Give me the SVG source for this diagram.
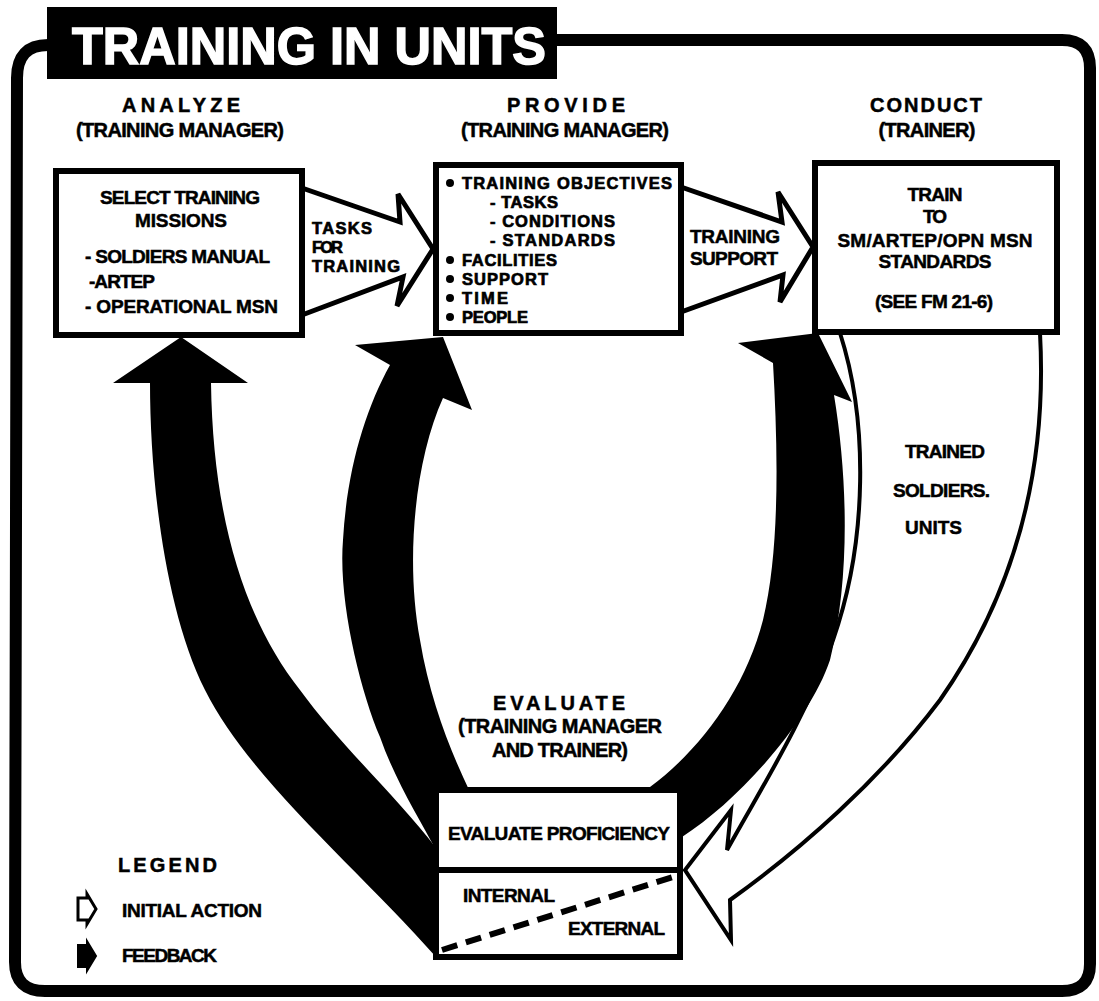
<svg xmlns="http://www.w3.org/2000/svg" width="1099" height="1001" viewBox="0 0 1099 1001">
<style>
.t{font-family:"Liberation Sans",Arial,sans-serif;font-weight:bold;fill:#000;stroke:#000;stroke-width:0.5}
.h{font-size:20px}
.b{font-size:19px}
.s{font-size:16.5px;stroke-width:0.7}
.box{fill:#fff;stroke:#000;stroke-width:6}
.hollow{fill:#fff;stroke:#000;stroke-width:5;stroke-linejoin:miter}
.fb{fill:#000}
</style>
<rect x="0" y="0" width="1099" height="1001" fill="#fff"/>
<g id="frame">
<path d="M 48,45 Q 17,45 17,78 L 15,962 Q 15,991 45,991 L 1062,991 Q 1090,991 1090,964 L 1090,68 Q 1090,40 1062,40 L 556,40" fill="none" stroke="#000" stroke-width="12"/>
</g>
<g id="title">
<rect x="47" y="7" width="510" height="72" fill="#000"/>
<text x="72" y="64" font-family="Liberation Sans, Arial, sans-serif" font-weight="bold" font-size="52" fill="#fff" stroke="#fff" stroke-width="1.5" textLength="474" lengthAdjust="spacingAndGlyphs">TRAINING IN UNITS</text>
</g>
<g id="connectors">
<path id="fb-analyze" class="fb" d="M 150,383 L 113,383 L 181,337 L 248,383 L 211,383 C 213,520 245,620 300,690 C 340,745 400,800 436,848 L 436,957 C 360,870 250,780 205,690 C 165,610 150,480 150,383 Z"/>
<path id="fb-provide" class="fb" d="M 443,337 L 472,410 L 443,398 C 415,460 405,560 420,640 C 430,700 450,750 470,792 L 436,792 L 436,850 C 420,820 395,780 380,737 C 360,690 338,600 343,540 C 347,470 365,410 390,365 L 355,345 Z"/>
<path id="fb-conduct" class="fb" d="M 738,343 L 818,333 L 852,402 L 834,395 C 848,480 850,580 830,660 C 810,720 740,800 682,837 L 682,787 L 650,787 C 700,750 745,690 763,620 C 780,550 778,450 773,363 Z"/>
<polygon id="tasks-arrow" class="hollow" points="302,188 400,222 398,194 433,249 397,306 403,277 302,315"/>
<polygon id="support-arrow" class="hollow" points="681,187 782,222 778,192 813,247 780,302 783,275 681,312"/>
<path id="trained-arrow" d="M 840,333 C 868,420 868,540 833,640 C 805,720 760,790 727,850 L 731,810 L 685,870 L 731,940 L 730,900 C 800,850 880,780 940,700 C 1010,600 1048,480 1040,333" fill="none" stroke="#000" stroke-width="4" stroke-linejoin="miter"/>
</g>
<g id="labels">
<text class="t s" x="312" y="234" textLength="60">TASKS</text>
<text class="t s" x="312" y="253" textLength="31">FOR</text>
<text class="t s" x="312" y="272" textLength="88">TRAINING</text>
<text class="t b" x="690" y="243" textLength="90">TRAINING</text>
<text class="t b" x="690" y="265" textLength="88">SUPPORT</text>
<text class="t b" x="905" y="458" textLength="80">TRAINED</text>
<text class="t b" x="893" y="497" textLength="97">SOLDIERS.</text>
<text class="t b" x="905" y="534" textLength="57">UNITS</text>
</g>
<g id="headers">
<text class="t h" x="181" y="112" text-anchor="middle" textLength="118" lengthAdjust="spacing">ANALYZE</text>
<text class="t h" x="180" y="137" text-anchor="middle" textLength="208" lengthAdjust="spacing">(TRAINING MANAGER)</text>
<text class="t h" x="566" y="112" text-anchor="middle" textLength="118" lengthAdjust="spacing">PROVIDE</text>
<text class="t h" x="565" y="137" text-anchor="middle" textLength="208" lengthAdjust="spacing">(TRAINING MANAGER)</text>
<text class="t h" x="926" y="112" text-anchor="middle" textLength="112" lengthAdjust="spacing">CONDUCT</text>
<text class="t h" x="927" y="137" text-anchor="middle" textLength="97" lengthAdjust="spacing">(TRAINER)</text>
<text class="t h" x="559" y="710" text-anchor="middle" textLength="132" lengthAdjust="spacing">EVALUATE</text>
<text class="t h" x="560" y="733" text-anchor="middle" textLength="204" lengthAdjust="spacing">(TRAINING MANAGER</text>
<text class="t h" x="560" y="757" text-anchor="middle" textLength="136" lengthAdjust="spacing">AND TRAINER)</text>
</g>
<g id="analyze">
<rect class="box" x="56" y="171" width="246" height="164"/>
<text class="t b" x="180" y="204" text-anchor="middle" textLength="160">SELECT TRAINING</text>
<text class="t b" x="181" y="227" text-anchor="middle" textLength="92">MISSIONS</text>
<text class="t b" x="85" y="263" textLength="185">- SOLDIERS MANUAL</text>
<text class="t b" x="89" y="288" textLength="66">-ARTEP</text>
<text class="t b" x="85" y="313" textLength="193">- OPERATIONAL MSN</text>
</g>
<g id="provide">
<rect class="box" x="436" y="165" width="245" height="168"/>
<g fill="#000">
<circle cx="450" cy="183" r="4"/>
<circle cx="450" cy="260" r="4"/>
<circle cx="450" cy="279" r="4"/>
<circle cx="450" cy="298" r="4"/>
<circle cx="450" cy="317" r="4"/>
</g>
<text class="t s" x="462" y="189" textLength="210">TRAINING OBJECTIVES</text>
<text class="t s" x="490" y="208" textLength="68">- TASKS</text>
<text class="t s" x="490" y="227" textLength="125">- CONDITIONS</text>
<text class="t s" x="490" y="246" textLength="125">- STANDARDS</text>
<text class="t s" x="462" y="266" textLength="95">FACILITIES</text>
<text class="t s" x="462" y="285" textLength="86">SUPPORT</text>
<text class="t s" x="462" y="304" textLength="46">TIME</text>
<text class="t s" x="462" y="323" textLength="66">PEOPLE</text>
</g>
<g id="conduct">
<rect class="box" x="815" y="163" width="242" height="169"/>
<text class="t b" x="935" y="201" text-anchor="middle" textLength="55">TRAIN</text>
<text class="t b" x="935" y="223" text-anchor="middle" textLength="24">TO</text>
<text class="t b" x="935" y="247" text-anchor="middle" textLength="195">SM/ARTEP/OPN MSN</text>
<text class="t b" x="935" y="268" text-anchor="middle" textLength="113">STANDARDS</text>
<text class="t b" x="934" y="308" text-anchor="middle" textLength="118">(SEE FM 21-6)</text>
</g>
<g id="evaluate">
<rect class="box" x="436" y="790" width="244" height="80"/>
<rect class="box" x="436" y="870" width="244" height="87"/>
<text class="t b" x="559" y="840" text-anchor="middle" textLength="222">EVALUATE PROFICIENCY</text>
<text class="t b" x="463" y="902" textLength="92">INTERNAL</text>
<text class="t b" x="568" y="935" textLength="97">EXTERNAL</text>
<line x1="442" y1="950" x2="673" y2="877" stroke="#000" stroke-width="6" stroke-dasharray="16 9"/>
</g>
<g id="legend">
<text class="t h" x="118" y="872" textLength="99" lengthAdjust="spacing">LEGEND</text>
<polygon points="78,898 87,898 87,894 96,909 87,924 87,920 78,920" fill="#fff" stroke="#000" stroke-width="3"/>
<text class="t b" x="122" y="917" textLength="140">INITIAL ACTION</text>
<polygon points="78,945 87,945 87,941 96,956 87,971 87,967 78,967" fill="#000" stroke="#000" stroke-width="2"/>
<text class="t b" x="122" y="962" textLength="95">FEEDBACK</text>
</g>
</svg>
